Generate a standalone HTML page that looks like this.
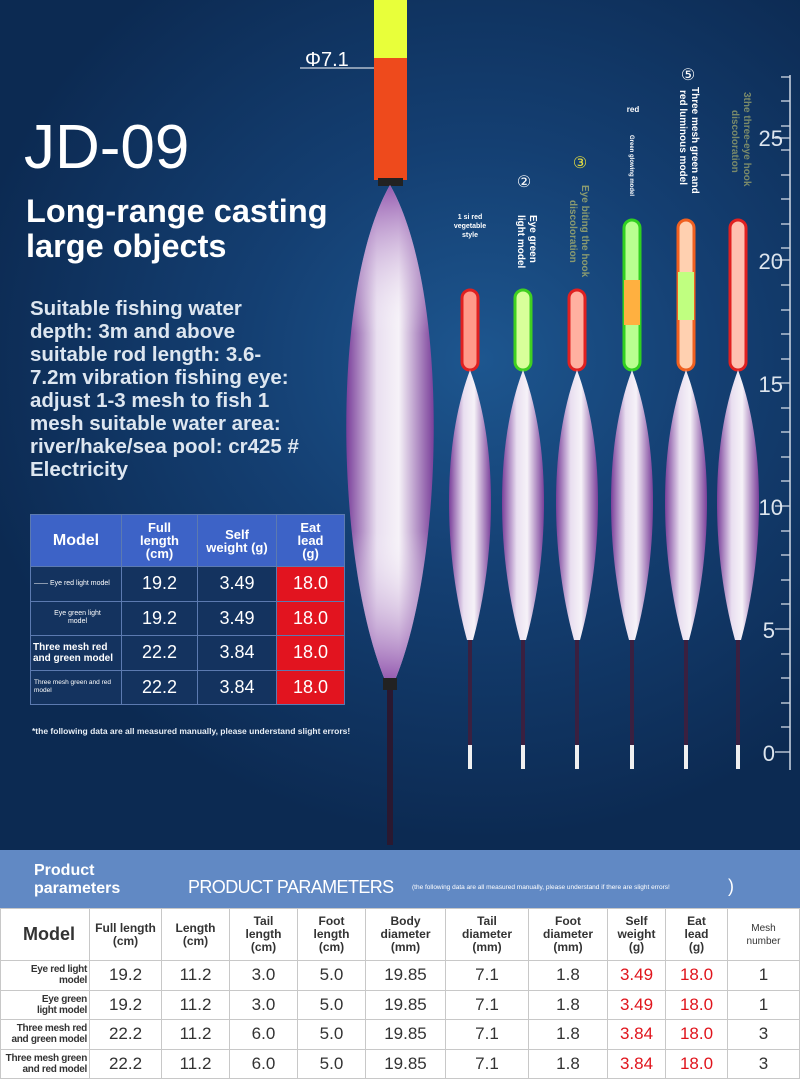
<!DOCTYPE html>
<html><head><meta charset="utf-8"><style>
*{margin:0;padding:0;box-sizing:border-box}
body{width:800px;height:1092px;overflow:hidden;font-family:"Liberation Sans","DejaVu Sans",sans-serif;background:#fff;position:relative}
.top{position:absolute;left:0;top:0;width:800px;height:850px;background:radial-gradient(ellipse 520px 480px at 480px 360px,#1d568f 0%,#143f72 45%,#0c2a52 100%)}
.abs{position:absolute;color:#fff}
.t1{left:24px;top:112px;font-size:62px;font-weight:300;letter-spacing:0px}
.t2{left:26px;top:194px;font-size:32.5px;font-weight:bold;line-height:35px}
.t3{left:30px;top:297px;font-size:20.5px;font-weight:bold;line-height:23px;color:#dde6f0}
table{border-collapse:collapse;position:absolute;table-layout:fixed}
.st{left:30px;top:514px;width:315px}
.st td{border:1px solid #5c7ab0;color:#fff;text-align:center;font-size:18px;height:34.5px;background:#14335f;overflow:hidden}
.st tr.h td{background:#3d63c7;font-weight:bold;font-size:13px;line-height:13px;height:52px}
.st td.r{background:#e2141f}
.st td.m{font-size:7px;text-align:left;padding-left:3px;line-height:8px}
.note{left:32px;top:726px;font-size:8.5px;font-weight:bold;color:#e8eef5}
.band{position:absolute;left:0;top:850px;width:800px;height:58px;background:#6189c4}
.bt{left:0;top:908px;width:800px}
.bt td{border:1px solid #c8c8c8;text-align:center;color:#333;font-size:17px;height:29.5px;overflow:hidden}
.bt tr.h td{font-size:12px;font-weight:bold;line-height:13px;height:52px;color:#333}
.bt .red{color:#e0141c}
.bt td.m{font-size:10px;font-weight:bold;line-height:11px;text-align:right;padding-right:2px;white-space:nowrap;letter-spacing:-0.3px}
</style></head><body>
<div class="top"></div>
<svg class="abs" style="left:0;top:0" width="800" height="850">
<defs>
<linearGradient id="bd" x1="0" y1="0" x2="1" y2="0"><stop offset="0" stop-color="#7a3f9a"/><stop offset=".35" stop-color="#e9dff0"/><stop offset=".6" stop-color="#f6f2f8"/><stop offset="1" stop-color="#7a3f9a"/></linearGradient>
<linearGradient id="bv" x1="0" y1="0" x2="0" y2="1"><stop offset="0" stop-color="#8a4aa8" stop-opacity=".9"/><stop offset=".3" stop-color="#fff" stop-opacity="0"/><stop offset=".7" stop-color="#fff" stop-opacity="0"/><stop offset="1" stop-color="#8a4aa8" stop-opacity=".9"/></linearGradient>
</defs>
<rect x="374" y="0" width="33" height="58" fill="#e8ff3a"/>
<rect x="374" y="58" width="33" height="122" fill="#ee4a1c"/>
<rect x="378" y="178" width="25" height="8" fill="#222"/>
<path d="M390 185 C330 290 335 560 385 680 L395 680 C445 560 450 290 390 185Z" fill="url(#bd)"/>
<path d="M390 185 C330 290 335 560 385 680 L395 680 C445 560 450 290 390 185Z" fill="url(#bv)"/>
<rect x="383" y="678" width="14" height="12" fill="#222"/>
<rect x="387" y="690" width="6" height="155" fill="#2a1830"/>
<line x1="300" y1="68" x2="374" y2="68" stroke="#fff" stroke-width="1"/>
<text x="305" y="66" fill="#fff" font-size="20" font-family="Liberation Sans">Φ7.1</text>
<line x1="790" y1="75" x2="790" y2="770" stroke="#cfd8e4" stroke-width="1.5"/>
<g>
<rect x="462" y="290" width="16" height="80" rx="8" fill="#ff9a8a" stroke="#e02020" stroke-width="3"/>
<rect x="515" y="290" width="16" height="80" rx="8" fill="#d8ff9a" stroke="#40d020" stroke-width="3"/>
<rect x="569" y="290" width="16" height="80" rx="8" fill="#ffb0a0" stroke="#e02020" stroke-width="3"/>
<rect x="624" y="220" width="16" height="150" rx="8" fill="#b8ff90" stroke="#30d020" stroke-width="3"/>
<rect x="624" y="280" width="16" height="45" fill="#ffb040"/>
<rect x="678" y="220" width="16" height="150" rx="8" fill="#ffd0b0" stroke="#f06020" stroke-width="3"/>
<rect x="678" y="272" width="16" height="48" fill="#c0ff80"/>
<rect x="730" y="220" width="16" height="150" rx="8" fill="#ffc0b0" stroke="#e02020" stroke-width="3"/>
</g>
<path d="M470 370 C440 450 445 560 467 640 L473 640 C495 560 500 450 470 370Z" fill="url(#bd)"/>
<path d="M523 370 C493 450 498 560 520 640 L526 640 C548 560 553 450 523 370Z" fill="url(#bd)"/>
<path d="M577 370 C547 450 552 560 574 640 L580 640 C602 560 607 450 577 370Z" fill="url(#bd)"/>
<path d="M632 370 C602 450 607 560 629 640 L635 640 C657 560 662 450 632 370Z" fill="url(#bd)"/>
<path d="M686 370 C656 450 661 560 683 640 L689 640 C711 560 716 450 686 370Z" fill="url(#bd)"/>
<path d="M738 370 C708 450 713 560 735 640 L741 640 C763 560 768 450 738 370Z" fill="url(#bd)"/>
<g fill="#3a2040">
<rect x="468" y="640" width="4" height="105"/><rect x="521" y="640" width="4" height="105"/><rect x="575" y="640" width="4" height="105"/><rect x="630" y="640" width="4" height="105"/><rect x="684" y="640" width="4" height="105"/><rect x="736" y="640" width="4" height="105"/>
</g>
<g fill="#f0f0f0">
<rect x="468" y="745" width="4" height="24"/><rect x="521" y="745" width="4" height="24"/><rect x="575" y="745" width="4" height="24"/><rect x="630" y="745" width="4" height="24"/><rect x="684" y="745" width="4" height="24"/><rect x="736" y="745" width="4" height="24"/>
</g>
<g stroke="#cfd8e4" stroke-width="1.3">
<line x1="775" y1="138" x2="790" y2="138"/><line x1="775" y1="260" x2="790" y2="260"/><line x1="775" y1="383" x2="790" y2="383"/><line x1="775" y1="506" x2="790" y2="506"/><line x1="775" y1="629" x2="790" y2="629"/><line x1="775" y1="752" x2="790" y2="752"/>
<line x1="781" y1="77" x2="790" y2="77"/><line x1="781" y1="101" x2="790" y2="101"/><line x1="781" y1="126" x2="790" y2="126"/><line x1="781" y1="150" x2="790" y2="150"/><line x1="781" y1="175" x2="790" y2="175"/><line x1="781" y1="199" x2="790" y2="199"/><line x1="781" y1="224" x2="790" y2="224"/><line x1="781" y1="248" x2="790" y2="248"/><line x1="781" y1="285" x2="790" y2="285"/><line x1="781" y1="310" x2="790" y2="310"/><line x1="781" y1="334" x2="790" y2="334"/><line x1="781" y1="359" x2="790" y2="359"/><line x1="781" y1="408" x2="790" y2="408"/><line x1="781" y1="432" x2="790" y2="432"/><line x1="781" y1="457" x2="790" y2="457"/><line x1="781" y1="481" x2="790" y2="481"/><line x1="781" y1="531" x2="790" y2="531"/><line x1="781" y1="555" x2="790" y2="555"/><line x1="781" y1="580" x2="790" y2="580"/><line x1="781" y1="604" x2="790" y2="604"/><line x1="781" y1="654" x2="790" y2="654"/><line x1="781" y1="678" x2="790" y2="678"/><line x1="781" y1="703" x2="790" y2="703"/><line x1="781" y1="727" x2="790" y2="727"/>
</g>
<g fill="#dde5ee" font-size="22" font-family="Liberation Sans" text-anchor="end">
<text x="783" y="146">25</text><text x="783" y="269">20</text><text x="783" y="392">15</text><text x="783" y="515">10</text><text x="775" y="638">5</text><text x="775" y="761">0</text>
</g>
<g font-family="Liberation Sans" font-weight="bold" fill="#fff" font-size="7">
<text x="470" y="219" text-anchor="middle">1 si red</text><text x="470" y="228" text-anchor="middle">vegetable</text><text x="470" y="237" text-anchor="middle">style</text>
<text x="524" y="187" text-anchor="middle" font-size="16" font-weight="normal">②</text>
<text x="580" y="168" text-anchor="middle" font-size="16" font-weight="normal" fill="#e8e040">③</text>
<text x="688" y="80" text-anchor="middle" font-size="16" font-weight="normal">⑤</text>
<text x="633" y="112" text-anchor="middle" font-size="8">red</text>
<text transform="translate(530,215) rotate(90)" font-size="10">Eye green</text>
<text transform="translate(518,215) rotate(90)" font-size="10">light model</text>
<text transform="translate(582,185) rotate(90)" font-size="10" fill="#8a9a70">Eye biting the hook</text>
<text transform="translate(570,200) rotate(90)" font-size="10" fill="#8a9a70">discoloration</text>
<text transform="translate(630,135) rotate(90)" font-size="6">Green glowing model</text>
<text transform="translate(692,87) rotate(90)" font-size="10">Three mesh green and</text>
<text transform="translate(680,90) rotate(90)" font-size="10">red luminous model</text>
<text transform="translate(744,92) rotate(90)" font-size="10" fill="#7a8a6a">3the three-eye hook</text>
<text transform="translate(732,110) rotate(90)" font-size="10" fill="#7a8a6a">discoloration</text>
</g>
</svg>
<div class="abs t1">JD-09</div>
<div class="abs t2">Long-range casting<br>large objects</div>
<div class="abs t3">Suitable fishing water<br>depth: 3m and above<br>suitable rod length: 3.6-<br>7.2m vibration fishing eye:<br>adjust 1-3 mesh to fish 1<br>mesh suitable water area:<br>river/hake/sea pool: cr425 #<br>Electricity</div>
<table class="st">
<col style="width:91px"><col style="width:76px"><col style="width:79px"><col>
<tr class="h"><td style="font-size:16px">Model</td><td>Full<br>length<br>(cm)</td><td>Self<br>weight (g)</td><td>Eat<br>lead<br>(g)</td></tr>
<tr><td class="m" style="white-space:nowrap">—— Eye red light model</td><td>19.2</td><td>3.49</td><td class="r">18.0</td></tr>
<tr><td class="m" style="text-align:center">Eye green light<br>model</td><td>19.2</td><td>3.49</td><td class="r">18.0</td></tr>
<tr><td class="m" style="font-size:10px;font-weight:bold;line-height:11px;white-space:nowrap;padding-left:2px">Three mesh red<br>and green model</td><td>22.2</td><td>3.84</td><td class="r">18.0</td></tr>
<tr><td class="m" style="white-space:nowrap;font-size:6.5px">Three mesh green and red<br>model</td><td>22.2</td><td>3.84</td><td class="r">18.0</td></tr>
</table>
<div class="abs note">*the following data are all measured manually, please understand slight errors!</div>
<div class="band"></div>
<div class="abs" style="left:34px;top:862px;font-size:16px;font-weight:bold;line-height:18px">Product<br>parameters</div>
<div class="abs" style="left:188px;top:877px;font-size:18px;font-weight:300;letter-spacing:-0.6px">PRODUCT PARAMETERS</div>
<div class="abs" style="left:412px;top:884px;font-size:6.5px">(the following data are all measured manually, please understand if there are slight errors!</div>
<div class="abs" style="left:728px;top:876px;font-size:18px">)</div>
<table class="bt">
<col style="width:89px"><col style="width:72px"><col style="width:68px"><col style="width:68px"><col style="width:68px"><col style="width:80px"><col style="width:83px"><col style="width:79px"><col style="width:58px"><col style="width:62px"><col>
<tr class="h"><td style="font-size:18px;text-align:left;padding-left:22px">Model</td><td>Full length<br>(cm)</td><td>Length<br>(cm)</td><td>Tail<br>length<br>(cm)</td><td>Foot<br>length<br>(cm)</td><td>Body<br>diameter<br>(mm)</td><td>Tail<br>diameter<br>(mm)</td><td>Foot<br>diameter<br>(mm)</td><td class="red">Self<br>weight<br>(g)</td><td class="red">Eat<br>lead<br>(g)</td><td style="font-size:10px;font-weight:normal">Mesh<br>number</td></tr>
<tr><td class="m">Eye red light<br>model</td><td>19.2</td><td>11.2</td><td>3.0</td><td>5.0</td><td>19.85</td><td>7.1</td><td>1.8</td><td class="red">3.49</td><td class="red">18.0</td><td>1</td></tr>
<tr><td class="m">Eye green<br>light model</td><td>19.2</td><td>11.2</td><td>3.0</td><td>5.0</td><td>19.85</td><td>7.1</td><td>1.8</td><td class="red">3.49</td><td class="red">18.0</td><td>1</td></tr>
<tr><td class="m">Three mesh red<br>and green model</td><td>22.2</td><td>11.2</td><td>6.0</td><td>5.0</td><td>19.85</td><td>7.1</td><td>1.8</td><td class="red">3.84</td><td class="red">18.0</td><td>3</td></tr>
<tr><td class="m">Three mesh green<br>and red model</td><td>22.2</td><td>11.2</td><td>6.0</td><td>5.0</td><td>19.85</td><td>7.1</td><td>1.8</td><td class="red">3.84</td><td class="red">18.0</td><td>3</td></tr>
</table>
</body></html>
